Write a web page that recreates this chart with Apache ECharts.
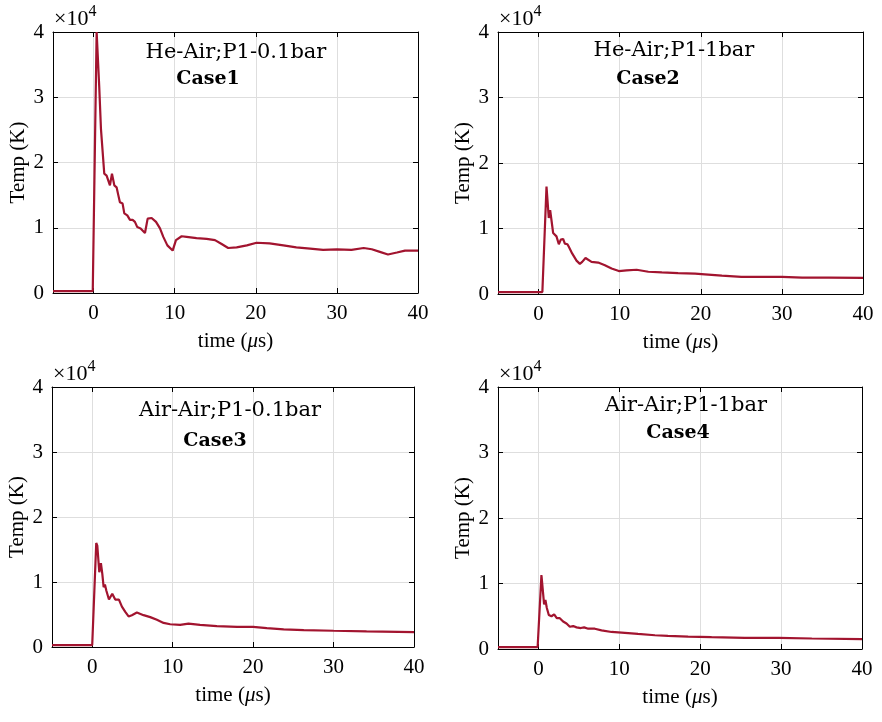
<!DOCTYPE html>
<html>
<head>
<meta charset="utf-8">
<script src="https://cdn.jsdelivr.net/npm/echarts@6/dist/echarts.min.js"></script>
<style>html,body{margin:0;padding:0;background:#fff;}#c{width:882px;height:722px;}</style>
</head>
<body>
<div id="c"></div>
<script>
// ---- data ----
const xTickValues = [0, 10, 20, 30, 40];
const yTickLabels = ['0', '1', '2', '3', '4'];
const titleLines = ['He-Air;P1-0.1bar', 'He-Air;P1-1bar', 'Air-Air;P1-0.1bar', 'Air-Air;P1-1bar'];
const caseNames = ['Case1', 'Case2', 'Case3', 'Case4'];

const time1 = [-5, -0.1, 0.38, 0.7, 0.91, 1.32, 1.61, 1.81, 2.02, 2.27, 2.56, 2.84, 3.05, 3.25, 3.58, 3.79, 4.16, 4.49, 4.82, 5.1, 5.39, 5.8, 6.34, 6.67, 7.16, 7.7, 8.19, 8.6, 9.1, 9.75, 10.16, 10.86, 11.47, 12.7, 13.94, 14.97, 15.79, 16.6, 17.64, 18.9, 20.1, 21.7, 23.4, 25, 26.7, 28.3, 30, 31.8, 33.3, 34.3, 35.3, 36.3, 37.4, 38.4, 40];
const temp1 = [300, 300, 40000, 31600, 25200, 18300, 18000, 18300, 16500, 18300, 16500, 16200, 15000, 13900, 13700, 12200, 11900, 11200, 11200, 10900, 10100, 9900, 9200, 11400, 11500, 10900, 9900, 8600, 7300, 6500, 8100, 8700, 8600, 8400, 8300, 8100, 7500, 6900, 7000, 7300, 7700, 7600, 7300, 7000, 6800, 6600, 6700, 6600, 6900, 6700, 6300, 5900, 6200, 6500, 6500];

const time2 = [-5, 0.47, 0.98, 1.1, 1.26, 1.43, 1.59, 1.8, 2.0, 2.21, 2.5, 2.74, 3.03, 3.24, 3.56, 3.73, 4.14, 4.68, 5.09, 5.38, 5.79, 6.53, 7.35, 8.18, 9.0, 9.9, 10.85, 12.09, 13.53, 15.2, 17.2, 19.3, 20.5, 22.6, 25, 27.5, 30, 32.5, 35.8, 40];
const temp2 = [300, 300, 16400, 16200, 11600, 12800, 11300, 9300, 9500, 8800, 7600, 8300, 8400, 7700, 7600, 7200, 6200, 5100, 4600, 4900, 5500, 4900, 4800, 4400, 3900, 3500, 3600, 3700, 3400, 3300, 3200, 3100, 3000, 2800, 2600, 2600, 2600, 2500, 2500, 2450];

const time3 = [-5, 0, 0.5, 0.63, 0.88, 1.08, 1.25, 1.42, 1.58, 1.75, 2.08, 2.49, 2.86, 3.07, 3.32, 3.69, 4.11, 4.52, 4.93, 5.55, 6.38, 7.21, 8.04, 8.87, 9.69, 10.93, 11.97, 13.4, 15.5, 18, 20, 21.7, 23.8, 26.3, 30, 34.1, 40];
const temp3 = [300, 300, 16000, 15600, 11500, 12900, 11300, 9200, 9600, 8700, 7300, 8200, 7300, 7500, 7300, 6200, 5400, 4700, 4900, 5300, 4900, 4600, 4200, 3700, 3500, 3400, 3600, 3400, 3200, 3100, 3100, 2900, 2700, 2600, 2500, 2400, 2300];

const time4 = [-5, -0.1, 0.37, 0.49, 0.7, 0.86, 1.03, 1.28, 1.61, 1.94, 2.27, 2.64, 3.05, 3.47, 3.88, 4.29, 4.71, 5.24, 5.65, 6.15, 6.97, 7.8, 9.04, 10.28, 12.3, 14.4, 16, 18.5, 21.4, 25.5, 29.7, 33.8, 40];
const temp4 = [300, 300, 11300, 11100, 6800, 7500, 6300, 5200, 5000, 5300, 4700, 4700, 4200, 3900, 3400, 3500, 3300, 3200, 3300, 3100, 3100, 2850, 2600, 2500, 2300, 2100, 2000, 1900, 1800, 1700, 1700, 1600, 1500];

const times = [time1, time2, time3, time4];
const temps = [temp1, temp2, temp3, temp4];

// ---- layout ----
const grids = [
  {left: 53, top: 32, width: 365, height: 261},
  {left: 498, top: 32, width: 365, height: 262},
  {left: 52, top: 387, width: 362, height: 260},
  {left: 498, top: 387, width: 364, height: 262}
];
const titlePos = [
  [[236, 53], [208, 79]],
  [[674, 51], [648, 79]],
  [[230, 411], [215, 441]],
  [[686, 406], [678, 433]]
];
const FONT = 'Liberation Serif';
const TFONT = 'DejaVu Serif';
const RED = '#A2142F';

const xAxes = [], yAxes = [], series = [], graphics = [];
grids.forEach((g, i) => {
  const common = {gridIndex: i, min: -5, max: 40};
  xAxes.push(Object.assign({}, common, {
    type: 'value', position: 'bottom',
    name: 'time ({i|μ}s)', nameLocation: 'middle', nameGap: 38,
    nameTextStyle: {fontFamily: FONT, fontSize: 21, color: '#000', rich: {i: {fontFamily: FONT, fontSize: 21, fontStyle: 'italic', color: '#000'}}},
    axisLine: {show: true, onZero: false, lineStyle: {color: '#000', width: 1}},
    axisTick: {show: true, inside: true, length: 5, customValues: xTickValues, lineStyle: {color: '#000'}},
    axisLabel: {customValues: xTickValues, fontFamily: FONT, fontSize: 21, color: '#000', margin: 10},
    splitLine: {show: true, lineStyle: {color: '#dedede', width: 1}}
  }));
  xAxes.push(Object.assign({}, common, {
    type: 'value', position: 'top',
    axisLine: {show: true, onZero: false, lineStyle: {color: '#000', width: 1}},
    axisTick: {show: true, inside: true, length: 5, customValues: xTickValues, lineStyle: {color: '#000'}},
    axisLabel: {show: false},
    splitLine: {show: false}
  }));
  const ycommon = {gridIndex: i, type: 'value', min: 0, max: 40000, interval: 10000};
  yAxes.push(Object.assign({}, ycommon, {
    position: 'left',
    name: 'Temp (K)', nameLocation: 'middle', nameGap: 24,
    nameTextStyle: {fontFamily: FONT, fontSize: 21, color: '#000'},
    axisLine: {show: true, onZero: false, lineStyle: {color: '#000', width: 1}},
    axisTick: {show: true, inside: true, length: 5, lineStyle: {color: '#000'}},
    axisLabel: {fontFamily: FONT, fontSize: 21, color: '#000', margin: 9,
      formatter: v => yTickLabels[Math.round(v / 10000)]},
    splitLine: {show: true, lineStyle: {color: '#dedede', width: 1}}
  }));
  yAxes.push(Object.assign({}, ycommon, {
    position: 'right',
    axisLine: {show: true, onZero: false, lineStyle: {color: '#000', width: 1}},
    axisTick: {show: true, inside: true, length: 5, lineStyle: {color: '#000'}},
    axisLabel: {show: false},
    splitLine: {show: false}
  }));
  series.push({
    type: 'line', xAxisIndex: 2 * i, yAxisIndex: 2 * i,
    data: times[i].map((t, k) => [t, temps[i][k]]),
    showSymbol: false, symbol: 'none',
    lineStyle: {color: RED, width: 2.2}, itemStyle: {color: RED},
    animation: false, z: 3
  });
  // x10^4 exponent label
  graphics.push({
    type: 'text', x: g.left + 1, y: g.top - 13,
    style: {
      text: '{a|×10}{b|4}', verticalAlign: 'middle', align: 'left',
      rich: {
        a: {fontFamily: FONT, fontSize: 22, fill: '#000', color: '#000'},
        b: {fontFamily: FONT, fontSize: 16, fill: '#000', color: '#000', verticalAlign: 'top', padding: [0, 0, 14, 0]}
      }
    }
  });
  graphics.push({
    type: 'text', x: titlePos[i][0][0], y: titlePos[i][0][1], z: 10,
    style: {text: titleLines[i], font: '21px "' + TFONT + '"', fill: '#000', align: 'center', verticalAlign: 'middle'}
  });
  graphics.push({
    type: 'text', x: titlePos[i][1][0], y: titlePos[i][1][1], z: 10,
    style: {text: caseNames[i], font: 'bold 19px "' + TFONT + '"', fill: '#000', align: 'center', verticalAlign: 'middle'}
  });
});

const chart = echarts.init(document.getElementById('c'), null, {renderer: 'canvas'});
chart.setOption({
  animation: false,
  backgroundColor: '#fff',
  grid: grids.map(g => Object.assign({containLabel: false}, g)),
  xAxis: xAxes,
  yAxis: yAxes,
  series: series,
  graphic: graphics
});
</script>
</body>
</html>
